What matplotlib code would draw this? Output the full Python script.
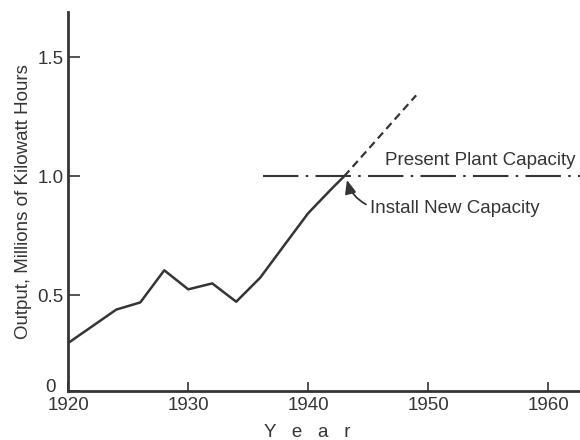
import matplotlib
matplotlib.use("Agg")
import matplotlib.pyplot as plt

plt.rcParams['font.family'] = ['Liberation Sans', 'DejaVu Sans']

# Data
years = [1920, 1924, 1926, 1928, 1930, 1932, 1934, 1936, 1938, 1940, 1942, 1943]
output = [0.30, 0.44, 0.47, 0.605, 0.525, 0.55, 0.473, 0.574, 0.71, 0.845, 0.95, 1.0]
proj_years = [1943, 1949]
proj_output = [1.0, 1.34]
cap_years = [1936.2, 1962.7]
cap_output = [1.0, 1.0]

xticks = [1920, 1930, 1940, 1950, 1960]
yticks = [0.098, 0.5, 1.0, 1.5]
ytick_labels = ['', '0.5', '1.0', '1.5']
zero_label = '0'

ink = '#353535'
fs = 13.5

fig = plt.figure(figsize=(5.8, 4.4), dpi=100)
ax = fig.add_axes([68.3 / 580, 49 / 440, 1 - 68.3 / 580, (391 - 12) / 440])

ax.plot(years, output, color=ink, lw=1.8, solid_joinstyle='round')
ax.plot(proj_years, proj_output, color=ink, lw=1.6, dashes=(3.5, 2.2))
ax.plot(cap_years, cap_output, color=ink, lw=1.5, dashes=(17, 3.5, 1.2, 3.5))

ax.set_xlim(1920, 1962.66)
ax.set_ylim(0.098, 1.69)

for s in ['top', 'right']:
    ax.spines[s].set_visible(False)
for s in ['left', 'bottom']:
    ax.spines[s].set_color(ink)
    ax.spines[s].set_linewidth(2.0)

ax.set_xticks(xticks)
ax.set_xticklabels([str(y) for y in xticks])
ax.set_yticks(yticks)
ax.set_yticklabels(ytick_labels)
ax.tick_params(axis='x', direction='in', length=6.5, width=1.2, colors=ink,
               labelsize=fs, pad=4.5)
ax.tick_params(axis='y', direction='in', length=8.5, width=1.2, colors=ink,
               labelsize=fs, pad=3.5)

# "0" label sits left of and slightly above the corner
ax.annotate(zero_label, xy=(0, 0), xycoords='axes fraction',
            xytext=(-13, 4), textcoords='offset pixels',
            ha='right', va='center', fontsize=fs, color=ink)

ax.set_ylabel('Output, Millions of Kilowatt Hours', fontsize=fs, color=ink)
ax.yaxis.set_label_coords(-0.087, 0.5)
ax.yaxis.label.set_verticalalignment('center')
ax.set_xlabel('Y   e   a   r', fontsize=fs, color=ink)
ax.xaxis.set_label_coords((307 - 68.3) / 511.7, -0.088)

ax.text(1946.4, 1.068, 'Present Plant Capacity', fontsize=fs, color=ink,
        ha='left', va='center')
ax.annotate('Install New Capacity', xy=(1943.2, 0.99), xytext=(1945.15, 0.863),
            fontsize=fs, color=ink, ha='left', va='center',
            arrowprops=dict(arrowstyle='-|>,head_length=0.6,head_width=0.25',
                            color=ink, lw=1.3, relpos=(0, 0.65),
                            shrinkA=1, shrinkB=1,
                            connectionstyle='arc3,rad=-0.25'))

fig.savefig('out.png', dpi=100)
